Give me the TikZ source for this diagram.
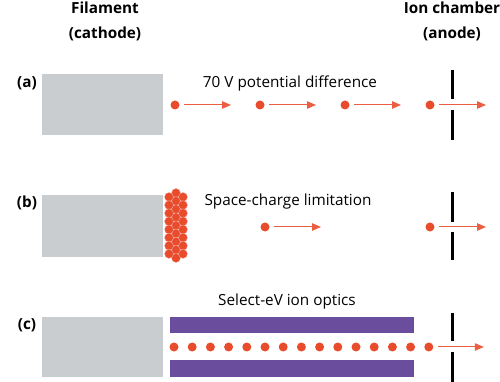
\documentclass[tikz,border=0pt]{standalone}
\usepackage{fontspec}
\setmainfont{Open Sans}
\usetikzlibrary{arrows.meta}

\definecolor{filgray}{RGB}{201,205,208}
\definecolor{ionred}{RGB}{233,76,44}
\definecolor{optpurple}{RGB}{106,77,156}

\tikzset{
  electron/.style={circle,fill=ionred,inner sep=0pt,minimum size=1.8mm},
  packed/.style={electron,draw=ionred!45!white,line width=0.15pt},
  beam/.style={ionred!90!white,line width=0.2mm,shorten <=0.9mm,
    -{Triangle[length=1.8mm,width=1.5mm]}},
  anode/.style={line width=0.6mm},
  lbl/.style={font=\fontsize{8.7}{10}\selectfont},
  hdr/.style={font=\fontsize{8.7}{14.2}\selectfont\bfseries,align=center},
}

\begin{document}
\begin{tikzpicture}[x=0.2mm,y=-0.2mm]
    \useasboundingbox (0,0) rectangle (500,382);
    % headers
    \node[hdr] (fil) at (105,21) {Filament\\(cathode)};
    \node[hdr] (ion) at (452,21) {Ion chamber\\(anode)};

    % (a) 70 V
    \node[hdr] (la) at (27,83) {(a)};
    \fill[filgray] (42,74) rectangle (163,135);
    \node[lbl] (ta) at (290,83) {70 V potential difference};
    \foreach \x [count=\i] in {175,260,345,430}{
      \node[electron] (a\i) at (\x,105) {};
      \draw[beam] (a\i) -- +(56,0);
    }
    \draw[anode] (452,70) -- (452,99);
    \draw[anode] (452,110) -- (452,140);

    % (b) space charge
    \node[hdr] (lb) at (27,203) {(b)};
    \fill[filgray] (42,195) rectangle (163,257);
    \foreach \i in {0,...,8}
      \node[packed] (bm\i) at (176,193+8.125*\i) {};
    \foreach \i in {0,...,7}{
      \node[packed] (bl\i) at (169,197+8.125*\i) {};
      \node[packed] (br\i) at (183,197+8.125*\i) {};
    }
    \node[lbl] (tb) at (288,202) {Space-charge limitation};
    \node[electron] (b1) at (265,227) {};
    \draw[beam] (b1) -- +(56,0);
    \node[electron] (b2) at (430,227) {};
    \draw[beam] (b2) -- +(56,0);
    \draw[anode] (452,192) -- (452,222);
    \draw[anode] (452,232) -- (452,260);

    % (c) select-eV
    \node[hdr] (lc) at (27,325) {(c)};
    \fill[filgray] (42,317) rectangle (163,377);
    \fill[optpurple] (170,317) rectangle (414,333);
    \fill[optpurple] (170,360) rectangle (414,377);
    \node[lbl] (tc) at (287,302) {Select-eV ion optics};
    \foreach \i in {0,...,14}
      \node[electron] (c\i) at (174+18.2*\i,347) {};
    \draw[beam] (c14) -- +(55,0);
    \draw[anode] (452,313) -- (452,341);
    \draw[anode] (452,352) -- (452,382);
\end{tikzpicture}
\end{document}
